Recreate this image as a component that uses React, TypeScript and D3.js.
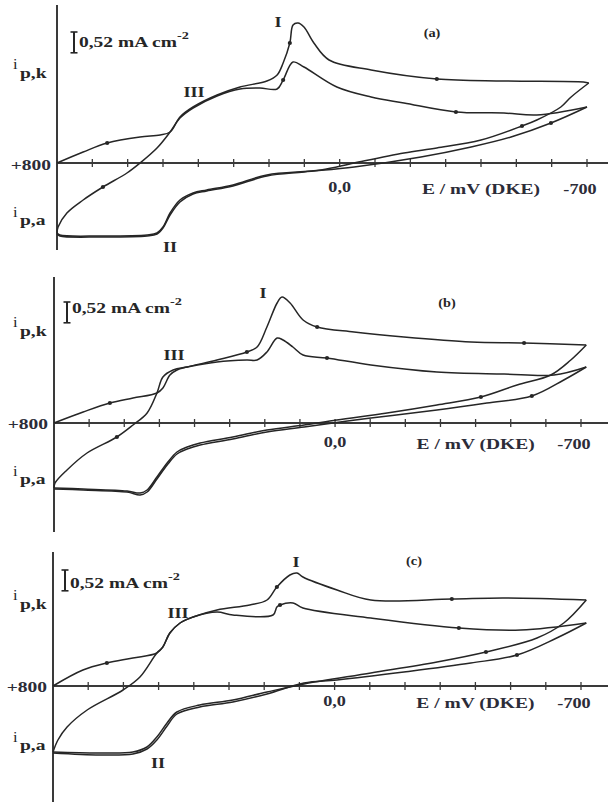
import React from 'react';
import * as d3 from 'd3';

type Pt = [number, number]; // [E in mV (DKE), i in mA cm^-2, cathodic up]

// ---- panel (a) ----
const aScan1Cath: Pt[] = [[800,0],[726,0.275],[658,0.5],[565,0.65],[508,0.7],[480,0.775],[452,1.15],[415,1.4],[347,1.7],[282,1.9],[206,2.05],[177,2.2],[160,2.5],[141,3.0],[132,3.45],[118,3.5],[101,3.4],[73,3.0],[30,2.575],[-89,2.325],[-275,2.1],[-465,2.05],[-690,2.025],[-705,2.0]];
const aScan1Anod: Pt[] = [[-705,2.0],[-655,1.65],[-626,1.4],[-558,1.075],[-516,0.925],[-400,0.575],[-275,0.375],[-182,0.25],[-41,0],[53,-0.175],[206,-0.3],[302,-0.55],[376,-0.675],[415,-0.75],[452,-0.925],[480,-1.25],[500,-1.6],[517,-1.75],[545,-1.8],[678,-1.825],[792,-1.8],[800,-1.75]];
const aScan2Cath: Pt[] = [[800,-1.75],[797,-1.6],[772,-1.25],[726,-0.925],[670,-0.6],[602,-0.25],[565,0],[517,0.375],[480,0.775],[452,1.125],[415,1.375],[347,1.675],[282,1.85],[226,1.875],[177,1.85],[160,2.075],[132,2.525],[101,2.4],[8,1.9],[-89,1.65],[-182,1.5],[-329,1.275],[-465,1.25],[-558,1.2],[-700,1.4]];
const aScan2Anod: Pt[] = [[-700,1.4],[-598,1.0],[-485,0.65],[-372,0.4],[-230,0.15],[-41,-0.1],[101,-0.225],[206,-0.325],[302,-0.575],[376,-0.7],[415,-0.775],[452,-0.975],[480,-1.3],[500,-1.625],[517,-1.775],[545,-1.825],[678,-1.85],[792,-1.825],[800,-1.775]];
const aMarks: Pt[] = [[658,0.5],[141,3.0],[-275,2.1],[670,-0.6],[160,2.075],[-329,1.275],[-516,0.925],[-598,1.0]];

// ---- panel (b) ----
const bScan1Cath: Pt[] = [[800,0],[717,0.275],[641,0.5],[575,0.625],[507,0.75],[490,0.875],[470,1.2],[450,1.325],[421,1.4],[336,1.575],[251,1.775],[222,1.9],[194,2.4],[165,3.0],[151,3.15],[128,3.0],[91,2.575],[51,2.4],[-54,2.275],[-196,2.15],[-387,2.025],[-538,2.0],[-715,1.95]];
const bScan1Anod: Pt[] = [[-715,1.95],[-671,1.575],[-614,1.2],[-518,0.95],[-415,0.65],[-290,0.45],[-148,0.25],[-5,0.075],[88,-0.05],[194,-0.175],[291,-0.35],[384,-0.5],[421,-0.6],[450,-0.725],[478,-1.0],[507,-1.35],[535,-1.675],[555,-1.75],[592,-1.7],[717,-1.65],[800,-1.625]];
const bScan2Cath: Pt[] = [[800,-1.625],[797,-1.5],[763,-1.175],[706,-0.75],[621,-0.35],[575,-0.05],[535,0.25],[507,0.75],[490,1.15],[461,1.325],[421,1.4],[336,1.525],[251,1.575],[222,1.575],[194,1.775],[165,2.125],[148,2.075],[120,1.9],[91,1.7],[23,1.625],[-102,1.45],[-290,1.275],[-481,1.225],[-623,1.2],[-715,1.4]];
const bScan2Anod: Pt[] = [[-715,1.4],[-651,1.075],[-560,0.675],[-432,0.5],[-290,0.325],[-102,0.125],[88,-0.1],[194,-0.225],[291,-0.4],[384,-0.55],[421,-0.65],[450,-0.775],[478,-1.05],[507,-1.4],[535,-1.725],[555,-1.8],[592,-1.725],[717,-1.675],[800,-1.65]];
const bMarks: Pt[] = [[641,0.5],[251,1.775],[51,2.4],[-538,2.0],[621,-0.35],[23,1.625],[-415,0.65],[-560,0.675]];

// ---- panel (c) ----
const cScan1Cath: Pt[] = [[800,0],[715,0.4],[647,0.575],[573,0.7],[505,0.825],[488,0.975],[468,1.325],[439,1.575],[402,1.725],[334,1.9],[241,2.025],[192,2.15],[164,2.475],[127,2.775],[107,2.825],[90,2.725],[-7,2.4],[-103,2.15],[-333,2.175],[-481,2.2],[-715,2.15]];
const cScan1Anod: Pt[] = [[-715,2.15],[-651,1.575],[-575,1.2],[-430,0.85],[-291,0.6],[-103,0.325],[87,0.05],[192,-0.15],[289,-0.35],[383,-0.475],[448,-0.65],[476,-0.925],[505,-1.275],[533,-1.525],[573,-1.65],[667,-1.675],[800,-1.65]];
const cScan2Cath: Pt[] = [[800,-1.65],[786,-1.35],[760,-1.025],[703,-0.6],[601,-0.1],[553,0.225],[505,0.825],[488,0.975],[468,1.325],[439,1.575],[402,1.725],[334,1.85],[289,1.775],[175,1.775],[164,1.975],[155,2.025],[118,2.075],[90,1.95],[-103,1.7],[-353,1.45],[-529,1.4],[-715,1.575]];
const cScan2Anod: Pt[] = [[-715,1.575],[-631,1.2],[-518,0.775],[-387,0.575],[-197,0.35],[-7,0.15],[87,0.075],[192,-0.2],[289,-0.4],[383,-0.525],[448,-0.7],[476,-1.0],[505,-1.35],[533,-1.575],[573,-1.7],[667,-1.725],[800,-1.675]];
const cMarks: Pt[] = [[647,0.575],[164,2.475],[-333,2.175],[155,2.025],[-353,1.45],[-430,0.85],[-518,0.775]];

const tickValues = [800, 700, 600, 500, 400, 300, 200, 100, 0, -100, -200, -300, -400, -500, -600, -700];
const scaleBar = 0.52;
const tags = ['(a)', '(b)', '(c)'];

const FONT = '"Liberation Serif", "DejaVu Serif", serif';
const INK = '#262626';
const LABEL_INK = '#2c2c38';
const PX_PER_MA = 40;
const STRETCH = 1.3; // the scanned lettering is wide

const layout = [
  { x0: 57, x1: 587, y0: 163, top: 5, bottom: 250, curves: [aScan1Cath, aScan1Anod, aScan2Cath, aScan2Anod], marks: aMarks,
    plus: 170, ipk: 78, ipa: 225, barX: 74, barTop: 32, barText: 47, tag: [432, 37], I: [278, 27], III: [194, 97], II: [170, 252], axisText: 194 },
  { x0: 54, x1: 581, y0: 423, top: 277, bottom: 532, curves: [bScan1Cath, bScan1Anod, bScan2Cath, bScan2Anod], marks: bMarks,
    plus: 429, ipk: 336, ipa: 484, barX: 67, barTop: 302, barText: 313, tag: [447, 307], I: [263, 298], III: [174, 360], II: null, axisText: 449 },
  { x0: 53, x1: 581, y0: 686, top: 552, bottom: 802, curves: [cScan1Cath, cScan1Anod, cScan2Cath, cScan2Anod], marks: cMarks,
    plus: 692, ipk: 609, ipa: 750, barX: 65, barTop: 570, barText: 588, tag: [414, 565], I: [296, 567], III: [178, 618], II: [158, 768], axisText: 708 },
];

function Txt({ x, y, size = 15, anchor = 'start', weight = 700, fill = INK, sx = STRETCH, children }: any) {
  return (
    <text transform={`translate(${x},${y}) scale(${sx},1)`} fontFamily={FONT} fontWeight={weight}
      fontSize={size} textAnchor={anchor} fill={fill}>
      {children}
    </text>
  );
}

function Panel({ p, tag }: { p: any; tag: string }) {
  const x = d3.scaleLinear().domain([800, -700]).range([p.x0, p.x1]);
  const y = d3.scaleLinear().domain([0, 1]).range([p.y0, p.y0 - PX_PER_MA]);
  const line = d3.line<Pt>().x(d => x(d[0])).y(d => y(d[1])).curve(d3.curveCatmullRom.alpha(0.5));
  const barH = y(0) - y(scaleBar);

  return (
    <g>
      {/* axes */}
      <line x1={p.x0} x2={p.x0} y1={p.top} y2={p.bottom} stroke="#3a3a3a" strokeWidth={2} />
      <line x1={p.x0} x2={608} y1={p.y0} y2={p.y0} stroke="#3a3a3a" strokeWidth={2} />
      {tickValues.map(v => (
        <line key={v} x1={x(v)} x2={x(v)} y1={p.y0 - 4} y2={p.y0 + 4} stroke="#3a3a3a" strokeWidth={1.3} />
      ))}

      {/* curves */}
      {p.curves.map((c: Pt[], i: number) => (
        <path key={i} d={line(c) || ''} fill="none" stroke={INK} strokeWidth={1.5} />
      ))}
      {p.marks.map((m: Pt, i: number) => (
        <circle key={i} cx={x(m[0])} cy={y(m[1])} r={2.1} fill={INK} />
      ))}

      {/* scale bar */}
      <line x1={p.barX} x2={p.barX} y1={p.barTop} y2={p.barTop + barH} stroke={INK} strokeWidth={2} />
      <line x1={p.barX - 3.5} x2={p.barX + 3.5} y1={p.barTop} y2={p.barTop} stroke={INK} strokeWidth={1.6} />
      <line x1={p.barX - 3.5} x2={p.barX + 3.5} y1={p.barTop + barH} y2={p.barTop + barH} stroke={INK} strokeWidth={1.6} />
      <Txt x={p.barX + 5} y={p.barText} size={15}>
        0,52 mA cm<tspan dy={-8} fontSize={11}>-2</tspan>
      </Txt>

      {/* y labels */}
      <Txt x={p.x0 - 6} y={p.plus} size={15} anchor="end" fill={LABEL_INK}>+800</Txt>
      <Txt x={13} y={p.ipk - 9} size={15} weight={400} sx={1.1}>i</Txt>
      <Txt x={20} y={p.ipk} size={15}>p,k</Txt>
      <Txt x={13} y={p.ipa - 8} size={15} weight={400} sx={1.1}>i</Txt>
      <Txt x={20} y={p.ipa} size={15}>p,a</Txt>

      {/* x labels */}
      <Txt x={x(0)} y={p.axisText - 2} size={14} anchor="middle" fill={LABEL_INK}>0,0</Txt>
      <Txt x={x(-400)} y={p.axisText} size={15} anchor="middle" fill={LABEL_INK}>E / mV (DKE)</Txt>
      <Txt x={x(-700) - 7} y={p.axisText} size={14} anchor="middle" fill={LABEL_INK}>-700</Txt>

      {/* peak labels and tag */}
      <Txt x={p.I[0]} y={p.I[1]} size={14} anchor="middle">I</Txt>
      <Txt x={p.III[0]} y={p.III[1]} size={14} anchor="middle">III</Txt>
      {p.II && <Txt x={p.II[0]} y={p.II[1]} size={14} anchor="middle">II</Txt>}
      <Txt x={p.tag[0]} y={p.tag[1]} size={13} anchor="middle" sx={1.1}>{tag}</Txt>
    </g>
  );
}

export default function App() {
  return (
    <svg width={608} height={802} style={{ position: 'absolute', left: 0, top: 0, background: '#fff' }}>
      <rect width={608} height={802} fill="#fff" />
      {layout.map((p, i) => (
        <Panel key={i} p={p} tag={tags[i]} />
      ))}
    </svg>
  );
}
